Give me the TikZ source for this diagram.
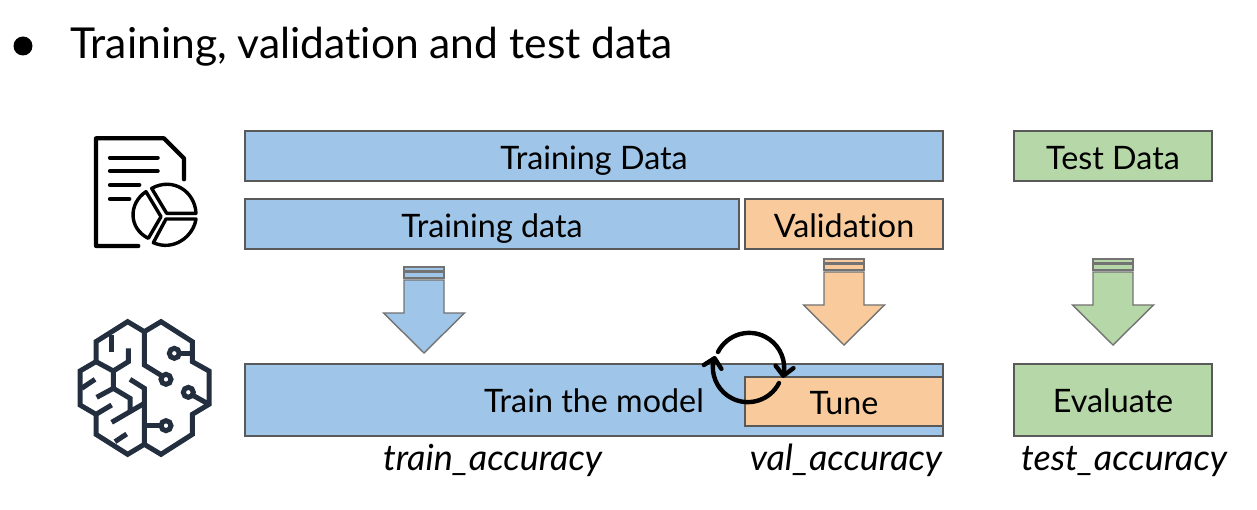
\documentclass[tikz,border=0pt]{standalone}
\usepackage{fontspec}
\setmainfont{Lato}[Ligatures=CommonOff]
\usetikzlibrary{arrows.meta}
\definecolor{zblue}{HTML}{9FC5E8}
\definecolor{zorange}{HTML}{F9CB9C}
\definecolor{zgreen}{HTML}{B6D7A8}
\definecolor{zedge}{HTML}{595959}
\definecolor{zbrain}{HTML}{232F3E}
\tikzset{zbox/.style={
  draw=zedge,
  line width=1.6,
  inner sep=0pt,
  text=black,
  font=\fontsize{32.3}{32}\selectfont,
  text height=27,
  text depth=0}}
\tikzset{zlabel/.style={
  anchor=base,
  inner sep=0pt,
  font=\fontsize{36}{36}\selectfont\itshape}}
\tikzset{zarrow/.style={
  draw=black!55,
  line width=1.4,
  line join=miter}}
\tikzset{zicon/.style={
  line width=4.2,
  line cap=round,
  line join=round}}

\begin{document}
\begin{tikzpicture}[x=1pt,y=-1pt]
  \useasboundingbox (0,0) rectangle (1257,510);

  %% Title line
  \node[circle,fill=black,inner sep=0pt,minimum size=19] (bullet) at (23,46) {};
  \node[anchor=base west,inner sep=0pt,font=\fontsize{42.6}{42}\selectfont] (title) at (70,59) {Training, validation and test data};

  %% Data bars
  \node[zbox,fill=zblue,minimum width=698,minimum height=50] (alldata) at (594,156) {Training Data};
  \node[zbox,fill=zgreen,minimum width=198,minimum height=50] (testdata) at (1113,156) {Test Data};
  \node[zbox,fill=zblue,minimum width=494,minimum height=50] (traindata) at (492,224) {Training data};
  \node[zbox,fill=zorange,minimum width=198,minimum height=50] (valdata) at (844,224) {Validation};

  %% Draw the down arrows
  \foreach \tip/\top/\col in {424/267/zblue,844/259/zorange,1113/259/zgreen}{
    \draw[zarrow,fill=\col] (\tip-20,\top) rectangle (\tip+20,\top+4);
    \draw[zarrow,fill=\col] (\tip-20,\top+5.5) rectangle (\tip+20,\top+11);
    \draw[zarrow,fill=\col] (\tip-20,\top+13) -- (\tip-20,\top+46) -- (\tip-40.5,\top+46)
      -- (\tip,\top+86) -- (\tip+40.5,\top+46) -- (\tip+20,\top+46) -- (\tip+20,\top+13) -- cycle;
  }

  %% Model bars
  \node[zbox,fill=zblue,minimum width=698,minimum height=72] (train) at (594,400) {};
  \node[font=\fontsize{32.3}{32}\selectfont,inner sep=0pt,text height=24,text depth=0] (trainlabel) at (594,400) {Train the model};
  \node[zbox,fill=zorange,minimum width=198,minimum height=49,text height=26] (tune) at (844,401.5) {Tune};
  \node[zbox,fill=zgreen,minimum width=198,minimum height=72,text height=24] (evaluate) at (1113,400) {Evaluate};

  %% Loop between the bars
  \begin{scope}[line width=4.4,line cap=round,-{Straight Barb[length=9,width=18,round]}]
    \draw (718,352) arc[start angle=-153,end angle=3,radius=35] -- (783,378);
    \draw (779,383) arc[start angle=27,end angle=182,radius=35] -- (715,356);
  \end{scope}

  %% Accuracy labels
  \node[zlabel] (trainacc) at (492.5,470) {train\_accuracy};
  \node[zlabel] (valacc) at (846,470) {val\_accuracy};
  \node[zlabel] (testacc) at (1124,470) {test\_accuracy};

  %% Document icon
  \begin{scope}[shift={(60,120)},x=1pt/3,y=-1pt/3,zicon]
    \draw (235,378) -- (108,378) -- (108,55) -- (312,55) -- (372,115) -- (372,178);
    \draw (150,113) -- (293,113) (150,153) -- (293,153) (150,195) -- (238,195) (150,237) -- (208,237);
    \begin{scope}[line width=3.4]
      \draw (275,205) .. controls (340,170) and (405,215) .. (408,280) -- (320,280) -- cycle;
      \draw (408,297) .. controls (400,350) and (340,395) .. (280,368) -- (318,297) -- cycle;
      \draw (258,215) -- (303,290) -- (265,355) .. controls (205,325) and (205,250) .. (258,215) -- cycle;
    \end{scope}
  \end{scope}

  %% Brain icon
  \begin{scope}[shift={(60,310)},x=1pt/3,y=-1pt/3,zicon,line width=5,draw=zbrain,line cap=butt,line join=miter]
    \draw (253,65) -- (203,35) -- (108,95) -- (108,155) -- (60,183) -- (60,285) -- (108,313) -- (108,373)
      -- (203,433) -- (253,403) -- (303,433) -- (397,373) -- (397,313) -- (447,283) -- (447,183)
      -- (397,155) -- (397,95) -- (303,35) -- cycle;
    \draw (253,65) -- (253,165) -- (305,197);
    \draw (253,403) -- (253,235) -- (210,208);
    \draw (253,347) -- (303,347);
    \draw (358,130) -- (397,130);
    \draw (397,255) -- (447,283);
    \draw (318,208) circle (15) (318,347) circle (15) (343,130) circle (15) (385,247) circle (15);
    \draw (155,75) -- (155,125);
    \draw (205,115) -- (205,155) -- (160,183) -- (108,155);
    \draw (160,183) -- (160,235) -- (210,265) -- (210,300);
    \draw (65,235) -- (105,208);
    \draw (110,262) -- (160,235);
    \draw (108,313) -- (155,285);
    \draw (155,337) -- (253,280);
    \draw (165,395) -- (200,372);
  \end{scope}

\end{tikzpicture}
\end{document}
